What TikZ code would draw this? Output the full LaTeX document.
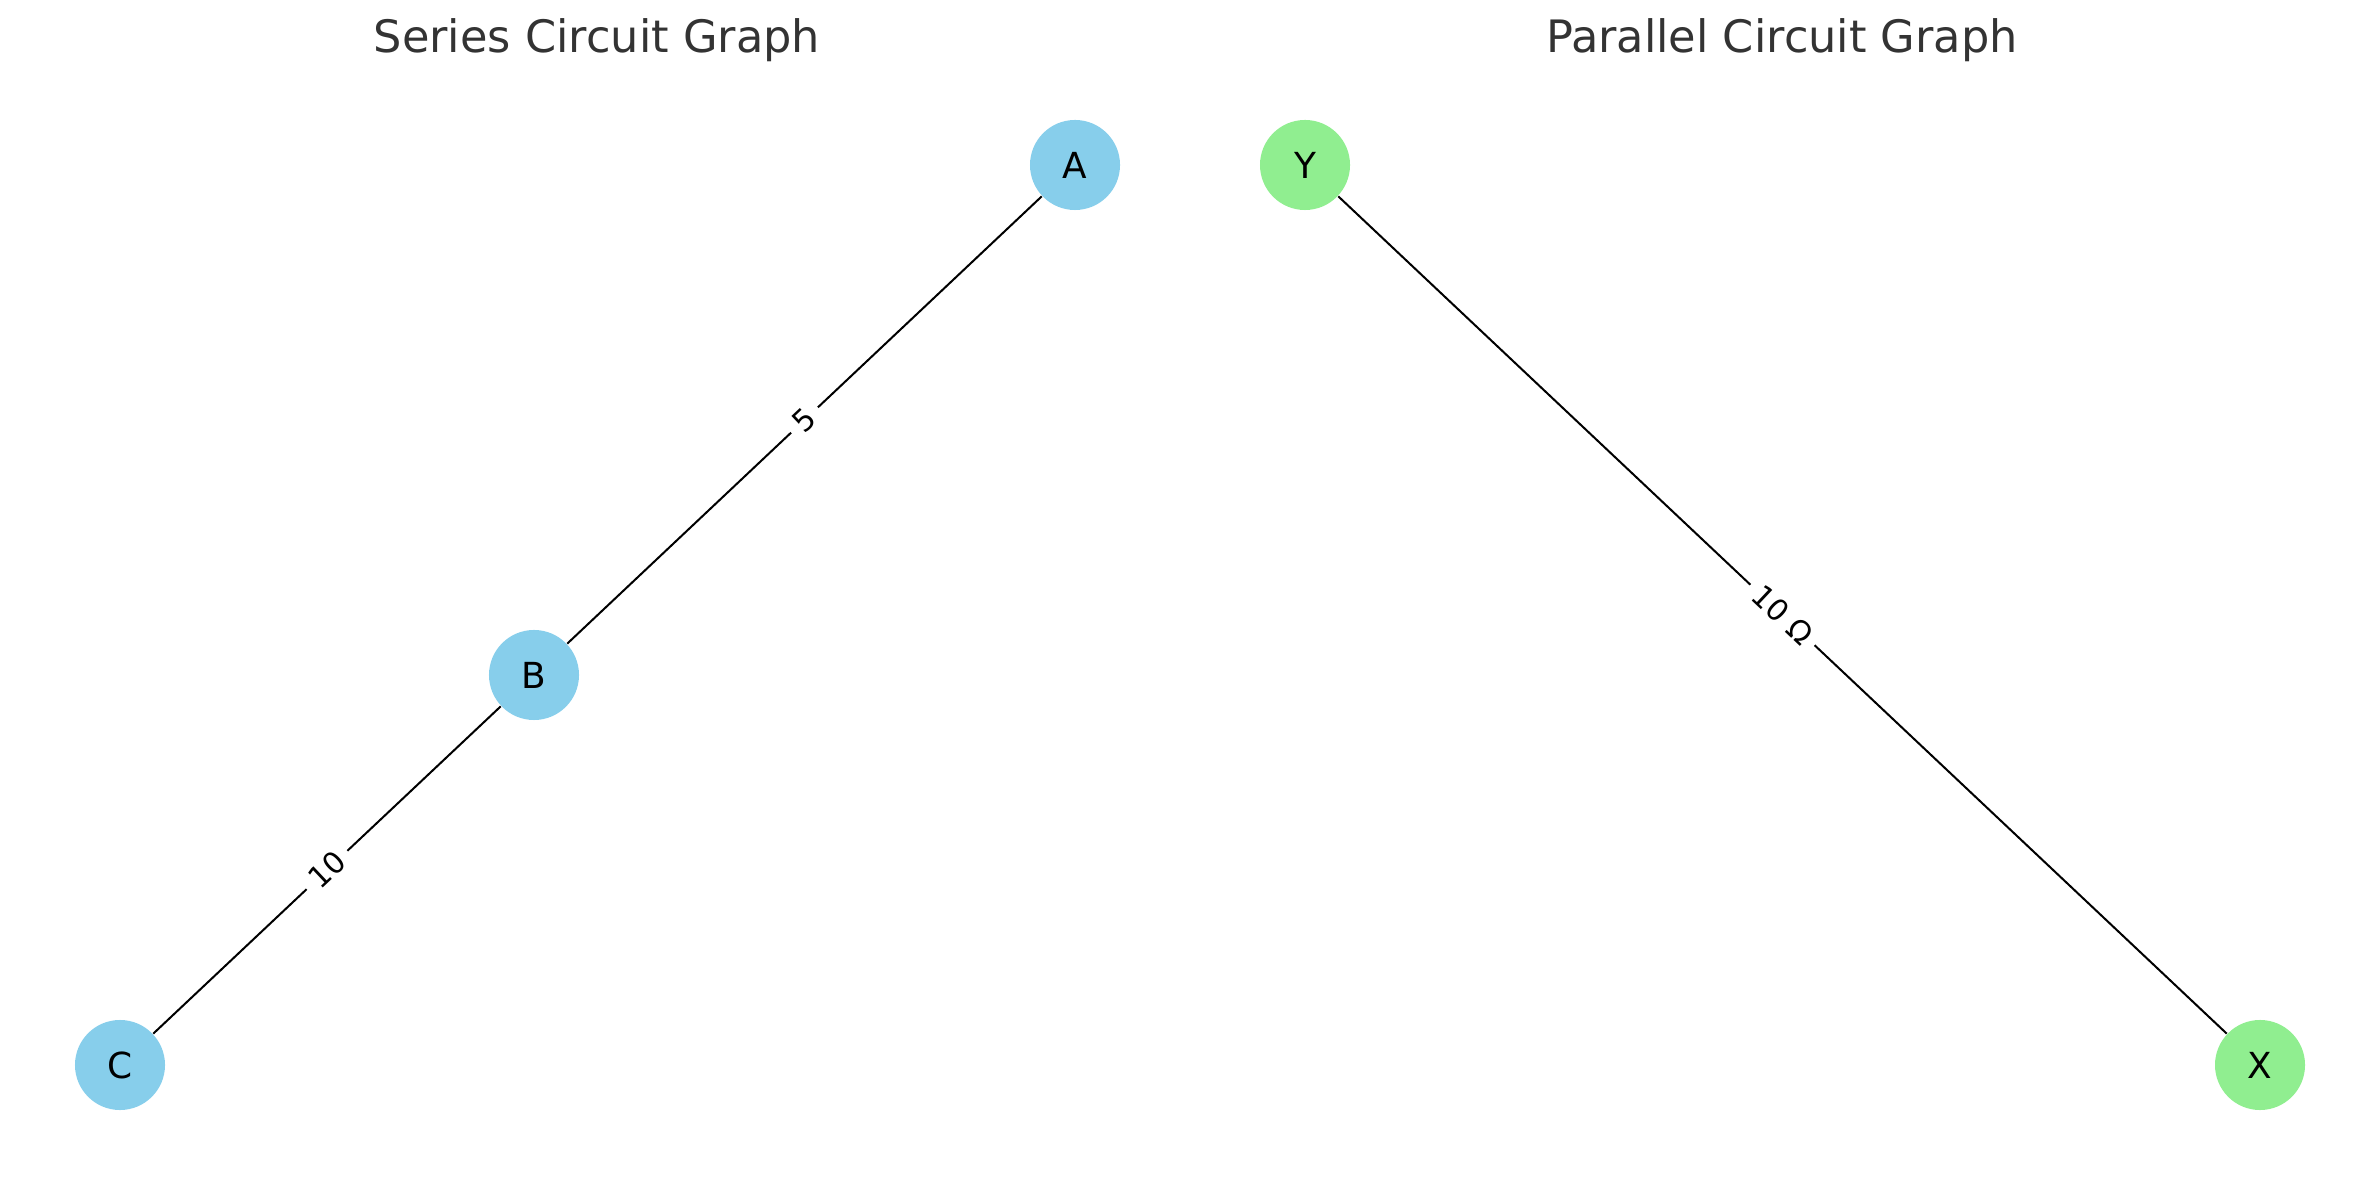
\documentclass[tikz,border=0pt]{standalone}
\usepackage{fontspec}
\setmainfont{DejaVu Sans}
\definecolor{skyblue}{HTML}{87CEEB}
\definecolor{lightgreen}{HTML}{90EE90}
\definecolor{titlegray}{HTML}{333333}
\begin{document}
\begin{tikzpicture}[x=0.01cm, y=-0.01cm,
  vertex/.style={circle, minimum size=0.9cm, inner sep=0pt, font=\fontsize{10.2}{12}\selectfont},
  series/.style={vertex, fill=skyblue},
  parallel/.style={vertex, fill=lightgreen},
  wire/.style={black, line width=0.57pt},
  weight/.style={midway, sloped, fill=white, inner sep=2.5pt, font=\fontsize{8.5}{10}\selectfont},
  heading/.style={text=titlegray, font=\fontsize{12.7}{15}\selectfont}]
  \useasboundingbox (0,0) rectangle (2379,1180);

  % headings
  \node[heading] (t1) at (597,40) {Series Circuit Graph};
  \node[heading] (t2) at (1782,40) {Parallel Circuit Graph};

  % series graph
  \node[series] (A) at (1075,165) {A};
  \node[series] (B) at (534,675) {B};
  \node[series] (C) at (120,1065) {C};

  % parallel graph
  \node[parallel] (Y) at (1305,165) {Y};
  \node[parallel] (X) at (2260,1065) {X};

  % edges with resistance labels
  \draw[wire] (A) -- node[weight] {5} (B);
  \draw[wire] (B) -- node[weight] {10} (C);
  \draw[wire] (Y) -- node[weight] {10 Ω} (X);
\end{tikzpicture}
\end{document}
